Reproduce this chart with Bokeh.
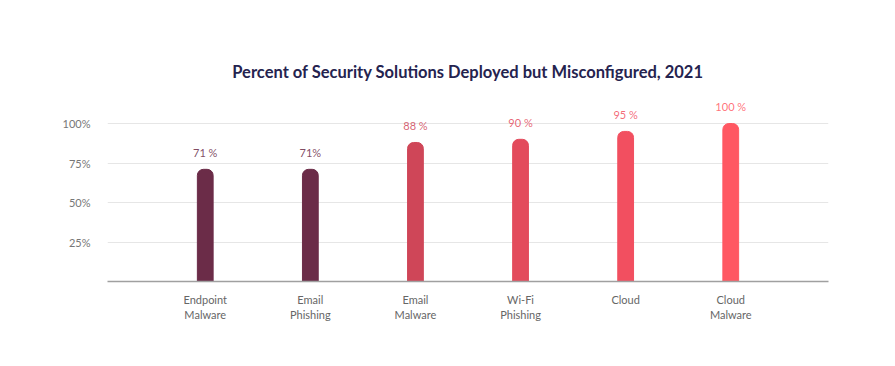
from bokeh.plotting import figure
from bokeh.models import ColumnDataSource, FixedTicker, FactorRange, Range1d, CustomJSTickFormatter
from bokeh.core.properties import value
from bokeh.embed import file_html
from bokeh.resources import INLINE

categories = ["Endpoint\nMalware", "Email\nPhishing", "Email\nMalware", "Wi-Fi\nPhishing", "Cloud", "Cloud\nMalware"]
values = [71, 71, 88, 90, 95, 100]
labels = ["71 %", "71%", "88 %", "90 %", "95 %", "100 %"]
colors = ["#6b2c48", "#6b2c48", "#cf4658", "#e34b5c", "#f24f60", "#ff5862"]
y_ticks = [25, 50, 75, 100]

src = ColumnDataSource(dict(cat=categories, val=values, lab=labels, col=colors))

p = figure(frame_width=721, frame_height=182, output_backend="svg", toolbar_location=None,
           x_range=FactorRange(factors=categories, range_padding=0.43, range_padding_units="absolute"),
           y_range=Range1d(0, 115.2),
           min_border_left=107, min_border_right=45, min_border_bottom=55, min_border_top=99)

p.vbar(x="cat", top="val", width=0.15, source=src, color="col", border_radius=(6, 6, 0, 0))
p.text(x="cat", y="val", text="lab", source=src, text_color="col", text_alpha=0.85,
       text_align="center", text_baseline="middle", y_offset=-17,
       text_font=value("Lato"), text_font_size="11px")

p.title.text = "Percent of Security Solutions Deployed but Misconfigured, 2021"
p.title.align = "center"
p.title.text_font = "Lato"
p.title.text_font_style = "bold"
p.title.text_font_size = "16.5px"
p.title.text_color = "#25234f"
p.title.standoff = 35

p.outline_line_color = None
p.xgrid.grid_line_color = None
p.ygrid.grid_line_color = "#e6e6e6"
p.ygrid.grid_line_width = 1.2
p.yaxis.ticker = FixedTicker(ticks=y_ticks)
p.yaxis.formatter = CustomJSTickFormatter(code="return tick + '%'")
p.yaxis.axis_line_color = None
p.yaxis.major_tick_line_color = None
p.yaxis.minor_tick_line_color = None
p.yaxis.major_label_text_color = "#777777"
p.yaxis.major_label_text_font = "Lato"
p.yaxis.major_label_text_font_size = "11px"
p.yaxis.major_label_standoff = 11

p.xaxis.axis_line_color = "#a0a0a0"
p.xaxis.axis_line_width = 1.5
p.xaxis.major_tick_line_color = None
p.xaxis.minor_tick_line_color = None
p.xaxis.major_label_text_color = "#666666"
p.xaxis.major_label_text_font = "Lato"
p.xaxis.major_label_text_font_size = "11px"
p.xaxis.major_label_standoff = 5

open("out.html", "w").write(file_html(p, INLINE))
